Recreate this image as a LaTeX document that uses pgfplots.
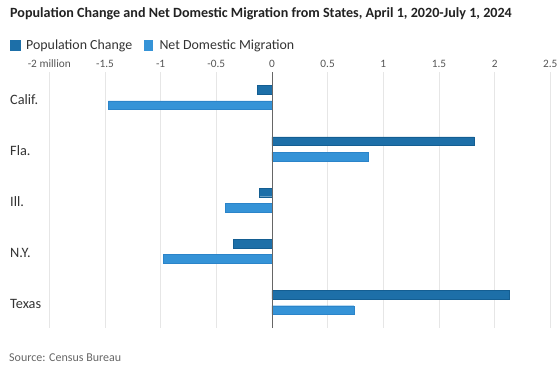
\documentclass[border=0pt]{standalone}
\usepackage{pgfplots}
\pgfplotsset{compat=1.18}
\usepackage{fontspec}
\setmainfont{Carlito}
\definecolor{pop}{HTML}{1D6FA8}
\definecolor{popedge}{HTML}{145E92}
\definecolor{net}{HTML}{3593D7}
\definecolor{netedge}{HTML}{2B84C9}
\definecolor{gridc}{HTML}{E6E6E6}
\definecolor{zeroc}{HTML}{666666}
\definecolor{tickc}{HTML}{555555}
\definecolor{labc}{HTML}{333333}
\definecolor{titlec}{HTML}{222222}
\definecolor{srcc}{HTML}{666666}
\begin{document}
\begin{tikzpicture}[x=1pt,y=1pt]
\useasboundingbox (0,0) rectangle (560,365);
\begin{axis}[
  at={(49.3pt,37pt)}, anchor=south west,
  scale only axis, width=501pt, height=256pt,
  xbar, bar width=8.7pt,
  xmin=-2, xmax=2.5, ymin=-0.5, ymax=4.5,
  xtick={-2,-1.5,-1,-0.5,0,0.5,1,1.5,2,2.5},
  xticklabels={-2 million,-1.5,-1,-0.5,0,0.5,1,1.5,2,2.5},
  xticklabel pos=upper,
  ytick={0,1,2,3,4},
  yticklabels={Texas,N.Y.,Ill.,Fla.,Calif.},
  axis line style={draw=none},
  major tick length=0pt,
  xmajorgrids, grid style={color=gridc, line width=0.8pt},
  xticklabel style={font=\fontsize{11.3}{11.3}\selectfont, text=tickc, inner sep=0pt, anchor=south, yshift=4pt},
  yticklabel style={font=\fontsize{14.3}{14.3}\selectfont, text=labc, anchor=west, inner sep=0pt, xshift=-39.3pt, yshift=-2pt},
  clip=false,
]
\addplot[fill=pop, draw=popedge, line width=0.4pt, bar shift=7.65pt] coordinates {(-0.133,4) (1.819,3) (-0.115,2) (-0.347,1) (2.128,0)};
\addplot[fill=net, draw=netedge, line width=0.4pt, bar shift=-7.65pt] coordinates {(-1.469,4) (0.862,3) (-0.42,2) (-0.976,1) (0.735,0)};
\draw[color=zeroc, line width=0.9pt] (axis cs:0,-0.5) -- (axis cs:0,4.5);
\end{axis}
\node[anchor=west, inner sep=0pt, font=\bfseries\fontsize{14.1}{14.1}\selectfont, text=titlec] at (10,351) {Population Change and Net Domestic Migration from States, April 1, 2020-July 1, 2024};
\fill[pop] (10,314) rectangle (20.7,324.5);
\node[anchor=west, inner sep=0pt, font=\fontsize{13.9}{13.9}\selectfont, text=labc] at (26,319.3) {Population Change};
\fill[net] (144,314) rectangle (152.7,324.5);
\node[anchor=west, inner sep=0pt, font=\fontsize{13.9}{13.9}\selectfont, text=labc] at (159.3,319.3) {Net Domestic Migration};
\node[anchor=west, inner sep=0pt, font=\fontsize{12}{12}\selectfont, text=srcc] at (9,7.5) {Source: Census Bureau};
\end{tikzpicture}
\end{document}
